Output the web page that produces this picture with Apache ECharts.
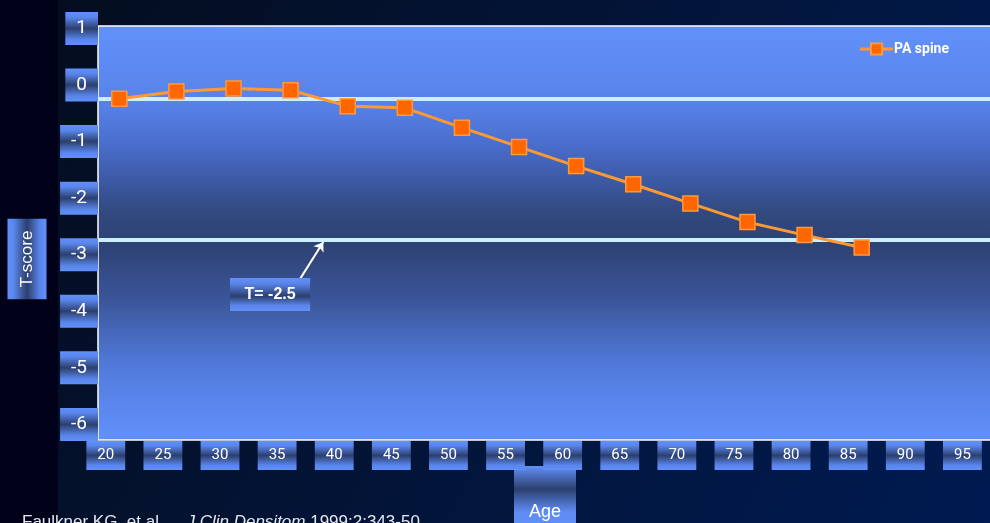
<!DOCTYPE html>
<html>
<head>
<meta charset="utf-8">
<script src="https://cdn.jsdelivr.net/npm/echarts@6/dist/echarts.min.js"></script>
<style>
  html, body { margin: 0; padding: 0; background: #030b1c; }
  #chart { width: 990px; height: 523px; }
</style>
</head>
<body>
<div id="chart"></div>
<script>
// Ages at which the PA spine T-score is plotted
const ages = [20, 25, 30, 35, 40, 45, 50, 55, 60, 65, 70, 75, 80, 85];
// Mean PA spine T-score at each age
const paSpine = [0.00, 0.13, 0.18, 0.15, -0.13, -0.16, -0.51, -0.85, -1.19, -1.51, -1.85, -2.18, -2.41, -2.63];
// Axis tick labels
const ageTicks = [20, 25, 30, 35, 40, 45, 50, 55, 60, 65, 70, 75, 80, 85, 90, 95];
const tScoreTicks = [-6, -5, -4, -3, -2, -1, 0, 1];
// Reference levels: young-adult mean and the osteoporosis threshold
const referenceLevels = [0, -2.5];
const thresholdText = 'T= -2.5';
const seriesName = 'PA spine';

const NARROW = "'Liberation Sans Narrow', 'Arial Narrow', Roboto, sans-serif";
const SANS = "'Liberation Sans', Arial, sans-serif";

// Blue "bevel" fill used by the label boxes: light at the edges, dark in the middle
function boxFill(dark) {
  return new echarts.graphic.LinearGradient(0, 0, 0, 1, [
    { offset: 0, color: '#6190f9' },
    { offset: 0.16, color: '#5a86ec' },
    { offset: dark || 0.5, color: '#2c3f6e' },
    { offset: 0.84, color: '#5a86ec' },
    { offset: 1, color: '#6190f9' }
  ]);
}

const plotFill = new echarts.graphic.LinearGradient(0, 0, 0, 1, [
  { offset: 0, color: '#6191f9' },
  { offset: 0.1, color: '#5d8af2' },
  { offset: 0.2, color: '#5680e6' },
  { offset: 0.28, color: '#4a6fcf' },
  { offset: 0.36, color: '#3e5cab' },
  { offset: 0.45, color: '#32497f' },
  { offset: 0.53, color: '#2d4274' },
  { offset: 0.66, color: '#3b5599' },
  { offset: 0.81, color: '#5078d8' },
  { offset: 0.92, color: '#5b87ef' },
  { offset: 1, color: '#6191f9' }
]);

const ageNameFill = new echarts.graphic.LinearGradient(0, 0, 0, 1, [
  { offset: 0, color: '#6190f9' },
  { offset: 0.35, color: '#2c3f6e' },
  { offset: 0.7, color: '#5f8df5' },
  { offset: 1, color: '#6190f9' }
]);

const chart = echarts.init(document.getElementById('chart'), null, { renderer: 'canvas' });

chart.setOption({
  animation: false,
  backgroundColor: new echarts.graphic.LinearGradient(0, 0, 1, 1, [
    { offset: 0, color: '#050d1d' },
    { offset: 1, color: '#001b52' }
  ]),
  graphic: [
    // darker side panel behind the y-axis title
    { type: 'rect', left: 0, top: 0, z: 0, shape: { width: 58, height: 523 }, style: { fill: '#01021a' } },
    {
      type: 'text', left: 22, top: 514, z: 10,
      style: {
        text: '{n|Faulkner KG, et al. }{i|J Clin Densitom}{n| 1999;2:343-50.}',
        rich: {
          n: { fontSize: 17, fontFamily: SANS, fill: '#e6e8f0' },
          i: { fontSize: 17, fontFamily: SANS, fontStyle: 'italic', fill: '#e6e8f0', padding: [0, 0, 0, 18] }
        }
      }
    }
  ],
  legend: {
    data: [seriesName],
    right: 36,
    top: 37,
    itemWidth: 33,
    itemHeight: 14,
    itemGap: 0,
    lineStyle: { width: 3 },
    textStyle: { color: '#ffffff', fontSize: 14, fontWeight: 'bold', fontFamily: NARROW, padding: [0, 0, 0, -4] }
  },
  grid: {
    left: 98, right: -2, top: 26, bottom: 83,
    outerBoundsMode: 'none',
    containLabel: false,
    show: true,
    backgroundColor: plotFill,
    borderColor: '#ffffff',
    borderWidth: 1.5
  },
  xAxis: {
    type: 'value',
    min: 18.135,
    max: 96.41,
    axisLine: { show: false },
    axisTick: { show: false },
    splitLine: { show: false },
    axisLabel: {
      customValues: ageTicks,
      margin: 8,
      padding: [0, 27, 0, 0],
      formatter: v => '{b|' + v + '}',
      rich: {
        b: {
          color: '#ffffff', fontSize: 15, lineHeight: 15, fontFamily: NARROW,
          padding: [7, 11, 7, 11], backgroundColor: boxFill(0.5)
        }
      }
    },
    name: 'Age',
    nameLocation: 'middle',
    nameGap: 26,
    nameMoveOverlap: false,
    nameTextStyle: {
      color: '#ffffff', fontSize: 18, lineHeight: 20, fontFamily: SANS,
      backgroundColor: ageNameFill, padding: [36, 15, 10, 15]
    }
  },
  yAxis: {
    type: 'value',
    min: -6.032,
    max: 1.287,
    z: 3,
    axisLine: { show: false },
    axisTick: { show: false },
    splitLine: { show: false },
    axisLabel: {
      customValues: tScoreTicks,
      margin: 0,
      padding: [0, 0, 27.6, 0],
      formatter: v => '{b|' + v + '}',
      rich: {
        b: {
          color: '#ffffff', fontSize: 19, lineHeight: 19, fontFamily: NARROW,
          padding: [7, 11, 7, 11], backgroundColor: boxFill(0.5)
        }
      }
    },
    name: '{t|T-score}',
    nameLocation: 'middle',
    nameRotate: 90,
    nameGap: 62,
    nameMoveOverlap: false,
    nameTextStyle: {
      padding: [0, 52, 0, 0],
      rich: {
        t: {
          color: '#ffffff', fontSize: 17, lineHeight: 18, fontFamily: SANS,
          padding: [11, 12, 11, 12], backgroundColor: boxFill(0.5)
        }
      }
    }
  },
  series: [
    {
      name: seriesName,
      type: 'line',
      z: 3,
      data: ages.map((a, i) => [a, paSpine[i]]),
      symbol: 'rect',
      symbolSize: 15,
      lineStyle: { color: '#ff9933', width: 3 },
      itemStyle: { color: '#ff6600', borderColor: '#ff9a3c', borderWidth: 1.5 },
      markLine: {
        silent: true,
        z: 1,
        symbol: 'none',
        label: { show: false },
        lineStyle: { color: '#cdeeff', width: 4, type: 'solid' },
        data: referenceLevels.map(v => ({ yAxis: v }))
      }
    },
    {
      // annotation pointing at the threshold line
      name: 'threshold note',
      type: 'line',
      data: [],
      markLine: {
        silent: true,
        symbol: ['none', 'arrow'],
        symbolSize: 9,
        label: { show: false },
        lineStyle: { color: '#ffffff', width: 2, type: 'solid' },
        data: [[{ coord: [35.5, -3.29] }, { coord: [37.86, -2.53] }]]
      },
      markPoint: {
        silent: true,
        symbol: 'rect',
        symbolSize: 1,
        itemStyle: { color: 'rgba(0,0,0,0)' },
        label: {
          show: true,
          position: 'inside',
          formatter: thresholdText,
          color: '#ffffff', fontSize: 16, fontWeight: 'bold', fontFamily: SANS,
          lineHeight: 16,
          padding: [8.5, 14.5, 8.5, 14.5],
          backgroundColor: boxFill(0.55)
        },
        data: [{ coord: [33.2, -3.46] }]
      }
    }
  ]
});
</script>
</body>
</html>
